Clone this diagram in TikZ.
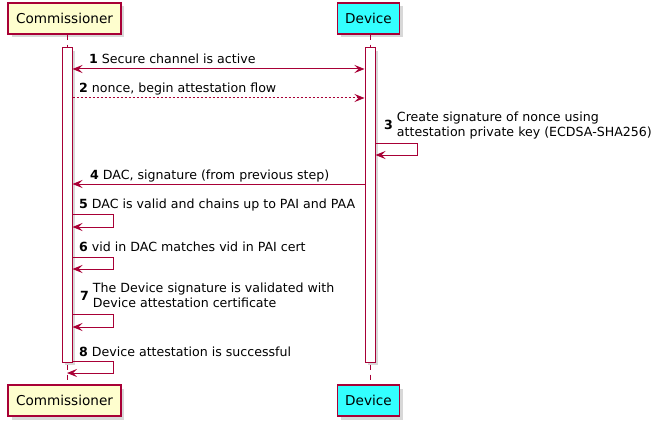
\documentclass[tikz,border=0pt]{standalone}
\usepackage{fontspec}
\setmainfont{DejaVu Sans}
\usetikzlibrary{arrows.meta,shadows}
\definecolor{umlred}{HTML}{A80036}
\definecolor{umlyellow}{HTML}{FEFECE}
\definecolor{umlcyan}{HTML}{33FFFF}
\begin{document}
\begin{tikzpicture}[x=1pt,y=-1pt,>={Stealth[length=10pt,width=8pt,inset=4pt]},
    participant/.style={draw=umlred,line width=1.1pt,inner xsep=8pt,inner ysep=0pt,
      minimum height=31pt,font=\fontsize{13.6}{16}\selectfont,
      drop shadow={shadow xshift=3.5pt,shadow yshift=-3.5pt,fill=gray!60}},
    bar/.style={draw=umlred,fill=white,line width=1pt,minimum width=10pt,
      minimum height=314pt,inner sep=0pt,
      drop shadow={shadow xshift=3pt,shadow yshift=-3pt,fill=gray!60}},
    lifeline/.style={umlred,line width=1pt,dash pattern=on 5pt off 5pt},
    msg/.style={umlred,line width=1pt,->},
    reply/.style={msg,dash pattern=on 2pt off 2pt},
    msglabel/.style={font=\fontsize{12.6}{14.5}\selectfont,inner sep=0pt,anchor=base west}]
  \useasboundingbox (0,0) rectangle (666,425);
  % participants
  \node[participant,fill=umlyellow] (comTop) at (64.5,18.5) {Commissioner};
  \node[participant,fill=umlcyan] (devTop) at (368.5,18.5) {Device};
  \node[participant,fill=umlyellow] (comBot) at (64.5,400.5) {Commissioner};
  \node[participant,fill=umlcyan] (devBot) at (368.5,400.5) {Device};
  % lifelines and activations
  \draw[lifeline] (67,0 |- comTop.south) -- (67,0 |- comBot.north);
  \draw[lifeline] (370,0 |- devTop.south) -- (370,0 |- devBot.north);
  \node[bar] (comBar) at (67,205) {};
  \node[bar] (devBar) at (370,205) {};
  % 1
  \draw[msg,<->] (comBar.east |- 0,69) -- (devBar.west |- 0,69);
  \node[msglabel] at (89,64) {\textbf{1} Secure channel is active};
  % 2
  \draw[reply] (comBar.east |- 0,98) -- (devBar.west |- 0,98);
  \node[msglabel] at (79,93) {\textbf{2} nonce, begin attestation flow};
  % 3
  \draw[msg] (devBar.east |- 0,143) -- ++(42,0) -- ++(0,12) -- (devBar.east |- 0,155);
  \node[msglabel] at (384,129) {\textbf{3} \begin{tabular}[c]{@{}l@{}}Create signature of nonce using\\
    attestation private key (ECDSA-SHA256)\end{tabular}};
  % 4
  \draw[msg] (devBar.west |- 0,184) -- (comBar.east |- 0,184);
  \node[msglabel] at (90,179) {\textbf{4} DAC, signature (from previous step)};
  % 5
  \draw[msg] (comBar.east |- 0,214) -- ++(41,0) -- ++(0,13) -- (comBar.east |- 0,227);
  \node[msglabel] at (79,208) {\textbf{5} DAC is valid and chains up to PAI and PAA};
  % 6
  \draw[msg] (comBar.east |- 0,257) -- ++(41,0) -- ++(0,12) -- (comBar.east |- 0,269);
  \node[msglabel] at (79,251) {\textbf{6} vid in DAC matches vid in PAI cert};
  % 7
  \draw[msg] (comBar.east |- 0,314) -- ++(41,0) -- ++(0,13) -- (comBar.east |- 0,327);
  \node[msglabel] at (80,300) {\textbf{7} \begin{tabular}[c]{@{}l@{}}The Device signature is validated with\\
    Device attestation certificate\end{tabular}};
  % 8
  \draw[msg] (comBar.east |- 0,361) -- ++(41,0) -- ++(0,12) -- (comBar.south |- 0,373);
  \node[msglabel] at (79,356) {\textbf{8} Device attestation is successful};
\end{tikzpicture}
\end{document}
